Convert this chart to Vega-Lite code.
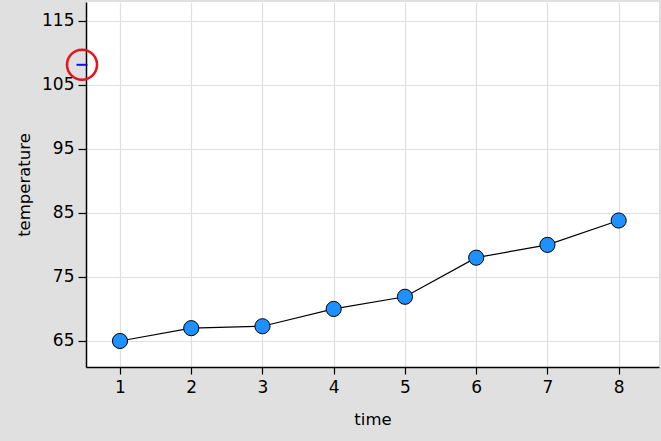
{
  "$schema": "https://vega.github.io/schema/vega-lite/v6.json",
  "width": 573,
  "height": 365,
  "autosize": {"type": "none"},
  "padding": {"left": 86, "top": 2, "right": 2, "bottom": 74},
  "background": "#e0e0e0",
  "config": {
    "view": {"fill": "white", "stroke": null},
    "font": "DejaVu Sans",
    "axis": {
      "labelFont": "DejaVu Sans",
      "titleFont": "DejaVu Sans",
      "labelFontSize": 17,
      "titleFontSize": 16.5,
      "titleFontWeight": "normal",
      "labelColor": "black",
      "titleColor": "black",
      "domainColor": "black",
      "domainWidth": 1.5,
      "tickColor": "black",
      "tickWidth": 1.2,
      "gridColor": "#e0e0e0",
      "gridWidth": 1.2
    }
  },
  "datasets": {
    "obs": [
      {"time": 1, "temperature": 65.0},
      {"time": 2, "temperature": 67.0},
      {"time": 3, "temperature": 67.3},
      {"time": 4, "temperature": 70.0},
      {"time": 5, "temperature": 71.9},
      {"time": 6, "temperature": 78.0},
      {"time": 7, "temperature": 80.0},
      {"time": 8, "temperature": 83.8}
    ],
    "cursor": [
      {"time": 0.467, "temperature": 108.1}
    ]
  },
  "layer": [
    {
      "data": {"name": "obs"},
      "mark": {"type": "line", "color": "black", "strokeWidth": 1.2},
      "encoding": {
        "x": {
          "field": "time",
          "type": "quantitative",
          "scale": {"domain": [0.523, 8.566], "nice": false, "zero": false},
          "axis": {
            "values": [1, 2, 3, 4, 5, 6, 7, 8],
            "format": "d",
            "title": "time",
            "grid": true,
            "tickSize": 7,
            "labelPadding": 5,
            "titlePadding": 16
          }
        },
        "y": {
          "field": "temperature",
          "type": "quantitative",
          "scale": {"domain": [60.94, 117.9], "nice": false, "zero": false},
          "axis": {
            "values": [65, 70, 75, 80, 85, 90, 95, 100, 105, 110, 115],
            "labelExpr": "datum.value % 10 == 5 ? datum.label : ''",
            "gridOpacity": {"condition": {"test": "datum.value % 10 == 5", "value": 1}, "value": 0},
            "title": "temperature",
            "grid": true,
            "tickSize": 8,
            "labelPadding": 4,
            "titlePadding": 9
          }
        }
      }
    },
    {
      "data": {"name": "obs"},
      "mark": {"type": "point", "filled": true, "fill": "#1e90ff", "stroke": "black", "strokeWidth": 1, "size": 230, "opacity": 1},
      "encoding": {
        "x": {"field": "time", "type": "quantitative"},
        "y": {"field": "temperature", "type": "quantitative"}
      }
    },
    {
      "data": {"name": "cursor"},
      "mark": {"type": "point", "filled": false, "stroke": "#e8141b", "strokeWidth": 2.5, "size": 900, "opacity": 1, "clip": false},
      "encoding": {
        "x": {"field": "time", "type": "quantitative"},
        "y": {"field": "temperature", "type": "quantitative"}
      }
    },
    {
      "data": {"name": "cursor"},
      "mark": {"type": "point", "shape": "stroke", "stroke": "#1010e0", "strokeWidth": 2, "size": 120, "opacity": 1, "clip": false},
      "encoding": {
        "x": {"field": "time", "type": "quantitative"},
        "y": {"field": "temperature", "type": "quantitative"}
      }
    }
  ]
}
